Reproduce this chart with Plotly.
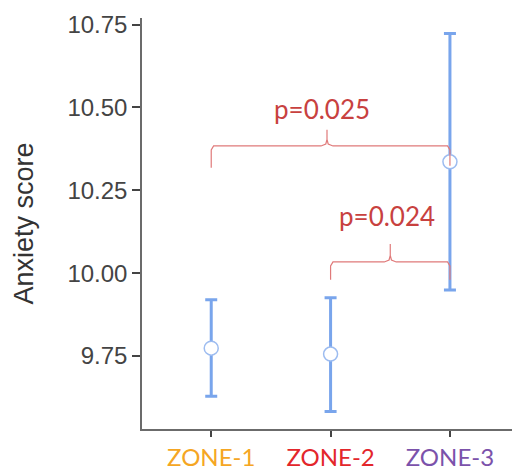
import plotly.graph_objects as go

zones = ["ZONE-1", "ZONE-2", "ZONE-3"]
zone_colors = ["#f5a623", "#e3262b", "#7b52ab"]
means = [9.774, 9.756, 10.336]
upper = [9.920, 9.926, 10.723]
lower = [9.629, 9.583, 9.949]

y_ticks = [9.75, 10.00, 10.25, 10.50, 10.75]

# brackets: (from index, to index, bracket level, left foot, right foot, tip, label, label y, label x)
brackets = [
    (0, 2, 10.384, 10.318, 10.324, 10.433, "p=0.025", 10.494, 0.93),
    (1, 2, 10.034, 9.980, 9.980, 10.088, "p=0.024", 10.172, 1.47),
]

xs = list(range(len(zones)))
fig = go.Figure()

fig.add_trace(go.Scatter(
    x=xs, y=means, mode="markers",
    marker=dict(size=14, color="white", line=dict(color="#9dbcf0", width=1.5)),
    error_y=dict(type="data", symmetric=False,
                 array=[u - m for u, m in zip(upper, means)],
                 arrayminus=[m - l for m, l in zip(means, lower)],
                 color="#79a5ec", thickness=3, width=6),
    showlegend=False, hoverinfo="skip"))

for (a, b, lvl, fl, fr, tip, lab, ly, lx) in brackets:
    xm = (a + b) / 2 - (0.03 if b - a == 2 else 0.0)
    d = 0.05
    r = 0.012
    bx = [a, a, a + 0.02, xm - d, xm - 0.01, xm, xm, xm, xm + 0.01, xm + d, b - 0.02, b, b]
    by = [fl, lvl - r, lvl, lvl, lvl + 0.006, lvl + 0.02, tip, lvl + 0.02, lvl + 0.006, lvl, lvl, lvl - r, fr]
    fig.add_trace(go.Scatter(x=bx, y=by, mode="lines",
                             line=dict(color="#e07a7a", width=1.2),
                             showlegend=False, hoverinfo="skip"))
    fig.add_annotation(x=lx, y=ly, text=lab, showarrow=False,
                       font=dict(family="Lato", size=26, color="#c8413f"))

fig.update_layout(
    width=514, height=470,
    margin=dict(l=142, r=2, t=18, b=41),
    plot_bgcolor="white", paper_bgcolor="white",
    xaxis=dict(range=[-0.58, 2.52], tickvals=xs, automargin=False,
               ticktext=[f"<span style='color:{c}'>{z}</span>" for z, c in zip(zones, zone_colors)],
               showline=True, linecolor="#6b6b6b", linewidth=1.5,
               ticks="outside", ticklen=6, tickwidth=1.5, tickcolor="#444",
               ticklabelstandoff=0,
               tickfont=dict(family="Lato", size=24),
               showgrid=False, zeroline=False),
    yaxis=dict(range=[9.53, 10.77], tickvals=y_ticks, automargin=False,
               ticktext=[f"{v:.2f}" for v in y_ticks],
               showline=True, linecolor="#6b6b6b", linewidth=1.5,
               ticks="outside", ticklen=8, tickwidth=1.5, tickcolor="#444",
               tickfont=dict(family="Liberation Sans", size=24, color="#444"),
               title=dict(text="Anxiety score", font=dict(family="Liberation Sans", size=27, color="#333"), standoff=26),
               showgrid=False, zeroline=False),
)

fig.write_html("out.html")
